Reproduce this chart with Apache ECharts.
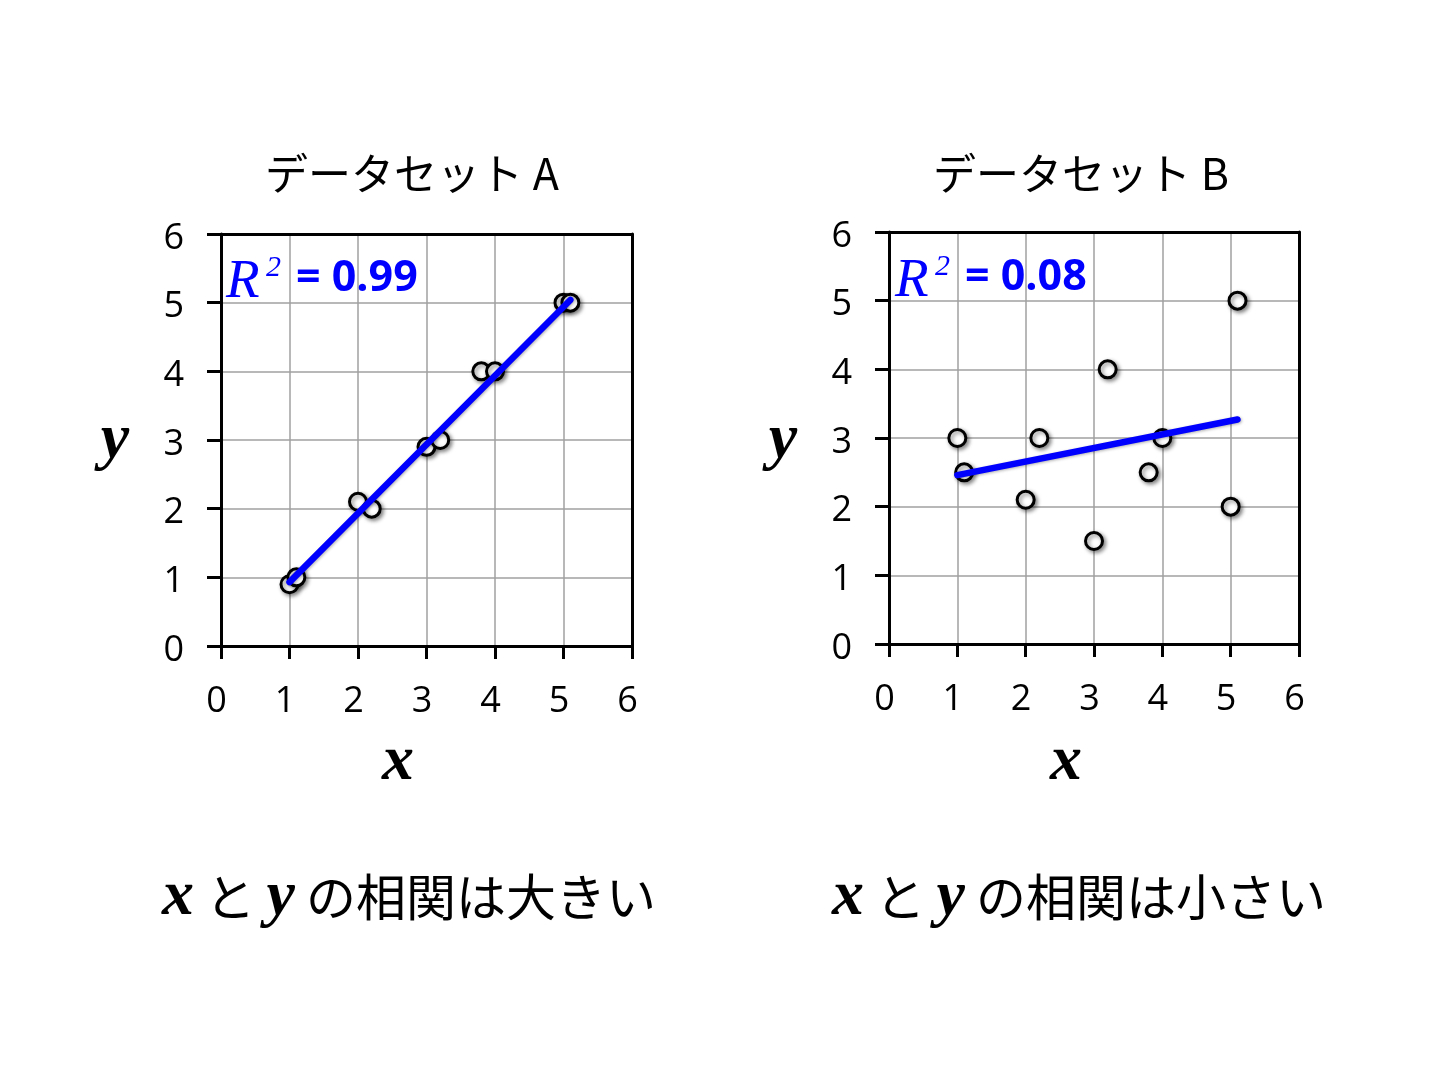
<!DOCTYPE html>
<html>
<head>
<meta charset="utf-8">
<script src="https://cdn.jsdelivr.net/npm/echarts@6/dist/echarts.min.js"></script>
<style>
html,body{margin:0;padding:0;background:#fff;}
#c{width:1432px;height:1077px;}
</style>
</head>
<body>
<div id="c"></div>
<script>
// ---- data ----
var titles = ['データセット A', 'データセット B'];
var captions = ['の相関は大きい', 'の相関は小さい'];
var r2Labels = ['= 0.99', '= 0.08'];
var tickValues = [0, 1, 2, 3, 4, 5, 6];
var xA = [1.0, 1.1, 2.0, 2.2, 3.0, 3.2, 3.8, 4.0, 5.0, 5.1];
var yA = [0.9, 1.0, 2.1, 2.0, 2.9, 3.0, 4.0, 4.0, 5.0, 5.0];
var xB = [1.0, 1.1, 2.0, 2.2, 3.0, 3.2, 3.8, 4.0, 5.0, 5.1];
var yB = [3.0, 2.5, 2.1, 3.0, 1.5, 4.0, 2.5, 3.0, 2.0, 5.0];
var trendAx = [1.0, 5.1];
var trendAy = [0.93, 5.04];
var trendBx = [1.0, 5.1];
var trendBy = [2.46, 3.27];

function pairs(xs, ys) { return xs.map(function (v, i) { return [v, ys[i]]; }); }

var grids = [
  { left: 221, top: 234, width: 411, height: 412 },
  { left: 889, top: 232, width: 410, height: 412 }
];

var labelFont = 'Open Sans';
var xAxes = [], yAxes = [];
grids.forEach(function (g, i) {
  xAxes.push({
    type: 'value', gridIndex: i, min: tickValues[0], max: tickValues[tickValues.length - 1], interval: 1,
    axisLine: { show: true, onZero: false, lineStyle: { color: '#000', width: 3 } },
    axisTick: { show: true, length: 13, lineStyle: { color: '#000', width: 3 } },
    axisLabel: { show: true, margin: 38, fontSize: 36, fontFamily: labelFont, color: '#000', padding: [0, 9, 0, 0] },
    splitLine: { show: true, lineStyle: { color: '#a0a0a0', width: 1.5 } }
  });
  xAxes.push({
    type: 'value', gridIndex: i, position: 'top', min: 0, max: 6, interval: 1,
    axisLine: { show: true, onZero: false, lineStyle: { color: '#000', width: 3 } },
    axisTick: { show: false }, axisLabel: { show: false }, splitLine: { show: false }
  });
  yAxes.push({
    type: 'value', gridIndex: i, min: tickValues[0], max: tickValues[tickValues.length - 1], interval: 1,
    axisLine: { show: true, onZero: false, lineStyle: { color: '#000', width: 3 } },
    axisTick: { show: true, length: 14, lineStyle: { color: '#000', width: 3 } },
    axisLabel: { show: true, margin: 37, color: '#000',
      formatter: function (v) { return '{a|' + v + '}'; },
      rich: { a: { fontSize: 36, fontFamily: labelFont, color: '#000', padding: [9, 0, 0, 0] } } },
    splitLine: { show: true, lineStyle: { color: '#a0a0a0', width: 1.5 } }
  });
  yAxes.push({
    type: 'value', gridIndex: i, position: 'right', min: 0, max: 6, interval: 1,
    axisLine: { show: true, onZero: false, lineStyle: { color: '#000', width: 3 } },
    axisTick: { show: false }, axisLabel: { show: false }, splitLine: { show: false }
  });
});

function scatter(idx, data) {
  return {
    type: 'scatter', xAxisIndex: idx * 2, yAxisIndex: idx * 2, data: data,
    symbol: 'circle', symbolSize: 17, z: 3,
    itemStyle: { color: '#fff', borderColor: '#000', borderWidth: 3, opacity: 1,
      shadowBlur: 4, shadowColor: 'rgba(0,0,0,0.45)', shadowOffsetX: 2, shadowOffsetY: 2 },
    emphasis: { disabled: true }, silent: true
  };
}
function trend(idx, data) {
  return {
    type: 'line', xAxisIndex: idx * 2, yAxisIndex: idx * 2, data: data,
    symbol: 'none', z: 4, silent: true, animation: false,
    lineStyle: { color: '#0000ff', width: 6.5, cap: 'round',
      shadowBlur: 3, shadowColor: 'rgba(0,0,0,0.3)', shadowOffsetX: 1, shadowOffsetY: 1 }
  };
}

var serifBI = 'italic bold 64px "Liberation Serif", "DejaVu Serif", serif';
var cjk = '"Noto Sans CJK JP", "Noto Sans", sans-serif';

var graphics = [];
var titleX = [412, 1081];
var captionX = [409, 1079];
var yNameX = [115, 783];
var xNameX = [398, 1066];
var r2X = [228, 897];
var r2Top = [255, 254];
for (var i = 0; i < 2; i++) {
  graphics.push({ type: 'text', x: titleX[i], y: 174, silent: true,
    style: { text: titles[i], font: '43px ' + cjk, fill: '#000', align: 'center', verticalAlign: 'middle' } });
  graphics.push({ type: 'text', x: yNameX[i], y: 440, silent: true,
    style: { text: 'y', font: serifBI, fill: '#000', align: 'center', verticalAlign: 'middle' } });
  graphics.push({ type: 'text', x: xNameX[i], y: 762, silent: true,
    style: { text: 'x', font: serifBI, fill: '#000', align: 'center', verticalAlign: 'middle' } });
  graphics.push({ type: 'text', x: captionX[i], y: 897, silent: true,
    style: {
      text: '{m|x} と {m|y} ' + captions[i],
      font: '50px ' + cjk, fill: '#000', align: 'center', verticalAlign: 'middle',
      rich: { m: { fontFamily: '"Liberation Serif", serif', fontStyle: 'italic', fontWeight: 'bold', fontSize: 64, fill: '#000' } }
    } });
  graphics.push({ type: 'text', x: r2X[i] - 2, y: r2Top[i], silent: true, z: 10,
    style: { text: 'R', font: 'italic 55px "Liberation Serif", serif', fill: '#0000ff', align: 'left', verticalAlign: 'top' } });
  graphics.push({ type: 'text', x: r2X[i] + 38, y: r2Top[i] - 2, silent: true, z: 10,
    style: { text: '2', font: 'italic 30px "Liberation Serif", serif', fill: '#0000ff', align: 'left', verticalAlign: 'top' } });
  graphics.push({ type: 'text', x: r2X[i] + 68, y: r2Top[i] + 2, silent: true, z: 10,
    style: { text: r2Labels[i], font: 'bold 43px "Open Sans", sans-serif', fill: '#0000ff', align: 'left', verticalAlign: 'top' } });
}

var chart = echarts.init(document.getElementById('c'), null, { renderer: 'canvas' });
chart.setOption({
  backgroundColor: '#fff',
  animation: false,
  grid: grids,
  xAxis: xAxes,
  yAxis: yAxes,
  series: [
    scatter(0, pairs(xA, yA)),
    trend(0, pairs(trendAx, trendAy)),
    scatter(1, pairs(xB, yB)),
    trend(1, pairs(trendBx, trendBy))
  ],
  graphic: graphics
});
</script>
</body>
</html>
